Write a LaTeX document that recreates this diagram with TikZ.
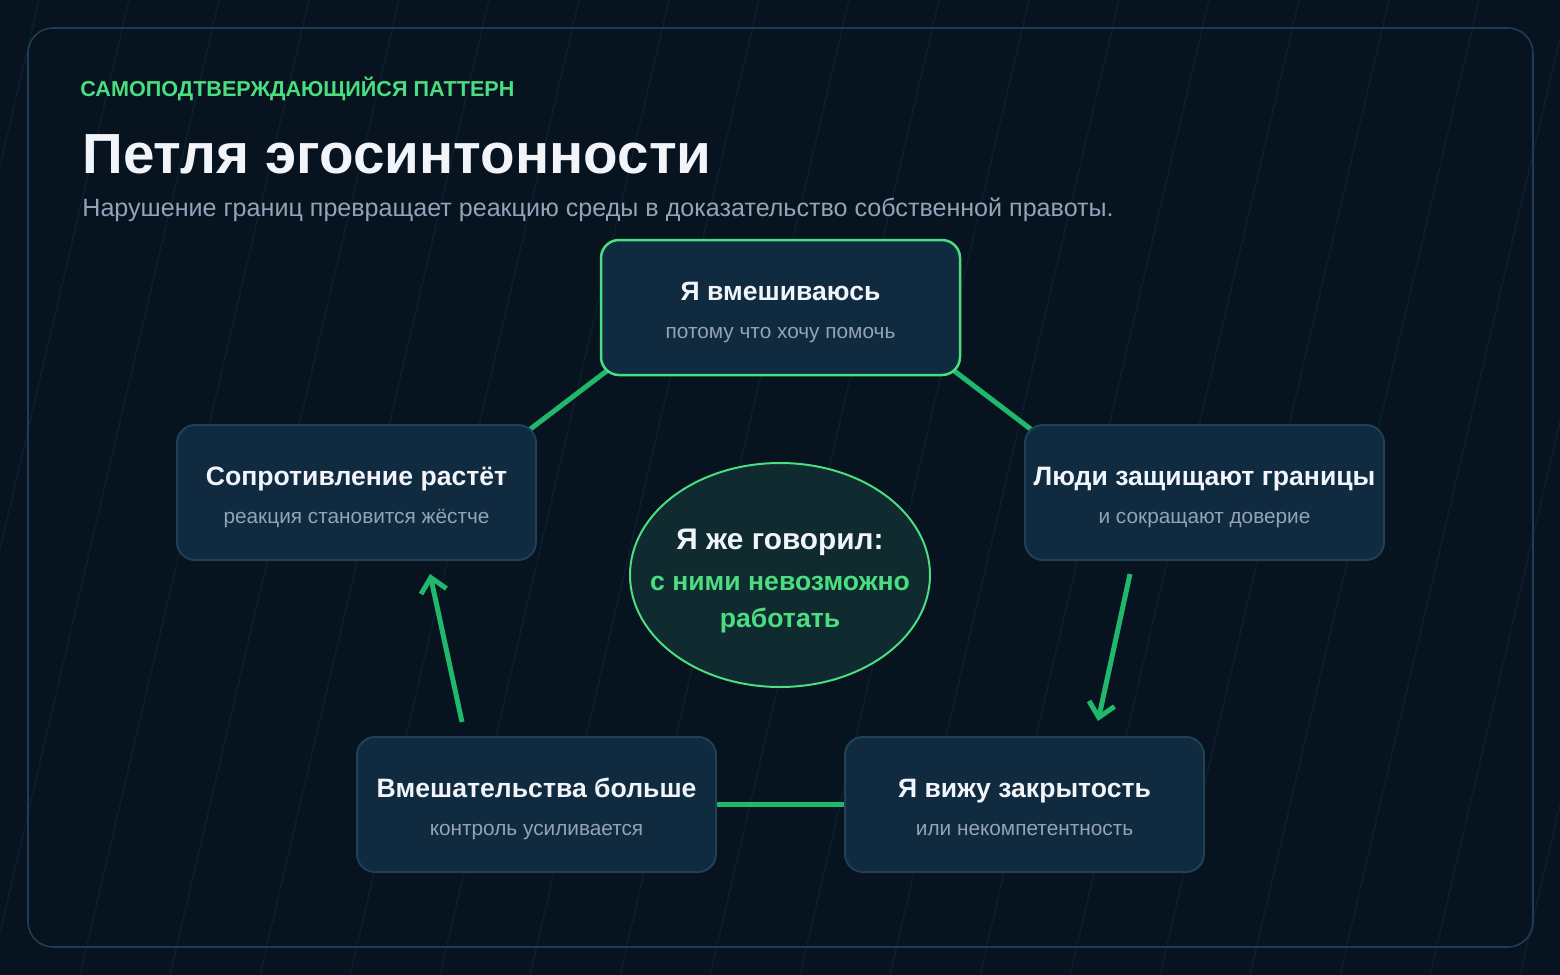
\documentclass[tikz,border=0pt]{standalone}
\usepackage{fontspec}
\setmainfont{Liberation Sans}
\usetikzlibrary{arrows.meta}
\usetikzlibrary{shapes.geometric}

\definecolor{bgnavy}{HTML}{07131F}
\definecolor{hatch}{HTML}{0D2030}
\definecolor{frameedge}{HTML}{1E3D55}
\definecolor{boxfill}{HTML}{102A40}
\definecolor{boxedge}{HTML}{1F4058}
\definecolor{lightgreen}{HTML}{4ADE80}
\definecolor{linkgreen}{HTML}{20B86A}
\definecolor{ovalfill}{HTML}{0F2B2F}
\definecolor{titlewhite}{HTML}{F1F5F9}
\definecolor{subgray}{HTML}{94A3B8}

\pgfdeclarelayer{bg}
\pgfdeclarelayer{links}
\pgfsetlayers{bg,links,main}

\tikzset{
  stepbox/.style={draw=boxedge, line width=1pt, fill=boxfill, rounded corners=9pt,
    minimum width=179.5pt, minimum height=67.5pt, inner sep=0pt},
  hotbox/.style={stepbox, draw=lightgreen, line width=1.25pt},
  boxtitle/.style={anchor=base, inner sep=0pt, text=titlewhite,
    font=\fontsize{13.3}{15}\selectfont\bfseries},
  boxsub/.style={anchor=base, inner sep=0pt, text=subgray,
    font=\fontsize{10.4}{12}\selectfont},
  link/.style={draw=linkgreen, line width=2.5pt},
  flow/.style={link, -{Straight Barb[length=7pt,width=13pt]}}
}

\begin{document}
\begin{tikzpicture}[x=0.5pt,y=-0.5pt]
  \useasboundingbox (0,0) rectangle (1560,975);

  \begin{pgfonlayer}{bg}
    \fill [bgnavy] (0,0) rectangle (1560,975);
    \begin{scope}
      \clip (0,0) rectangle (1560,975);
      \foreach \k in {-1,...,20}
        \draw [hatch, line width=0.6pt] (39+90*\k,0) -- (39+90*\k-229,975);
    \end{scope}
    \draw [frameedge, line width=0.8pt, rounded corners=12.5pt] (28,28) rectangle (1533,947);
  \end{pgfonlayer}

  \node [anchor=base west, inner sep=0pt, text=lightgreen,
    font=\fontsize{10.8}{13}\selectfont\bfseries] (kicker) at (80,96) {САМОПОДТВЕРЖДАЮЩИЙСЯ ПАТТЕРН};
  \node [anchor=base west, inner sep=0pt, text=titlewhite,
    font=\fontsize{28.3}{32}\selectfont\bfseries] (heading) at (82,173) {Петля эгосинтонности};
  \node [anchor=base west, inner sep=0pt, text=subgray,
    font=\fontsize{12.55}{14}\selectfont] (lead) at (82,216) {Нарушение границ превращает реакцию среды в доказательство собственной правоты.};

  \node [hotbox] (interfere) at (780.5,307.5) {};
  \node [boxtitle] (interfereT) at ([yshift=3.5pt]interfere.center) {Я вмешиваюсь};
  \node [boxsub] (interfereS) at ([yshift=-15.25pt]interfere.center) {потому что хочу помочь};

  \node [stepbox] (protect) at (1204.5,492.5) {};
  \node [boxtitle] (protectT) at ([yshift=3.5pt]protect.center) {Люди защищают границы};
  \node [boxsub] (protectS) at ([yshift=-15.25pt]protect.center) {и сокращают доверие};

  \node [stepbox] (closed) at (1024.5,804.5) {};
  \node [boxtitle] (closedT) at ([yshift=3.5pt]closed.center) {Я вижу закрытость};
  \node [boxsub] (closedS) at ([yshift=-15.25pt]closed.center) {или некомпетентность};

  \node [stepbox] (control) at (536.5,804.5) {};
  \node [boxtitle] (controlT) at ([yshift=3.5pt]control.center) {Вмешательства больше};
  \node [boxsub] (controlS) at ([yshift=-15.25pt]control.center) {контроль усиливается};

  \node [stepbox] (resist) at (356.5,492.5) {};
  \node [boxtitle] (resistT) at ([yshift=3.5pt]resist.center) {Сопротивление растёт};
  \node [boxsub] (resistS) at ([yshift=-15.25pt]resist.center) {реакция становится жёстче};

  \node [ellipse, draw=lightgreen, line width=1pt, fill=ovalfill,
    minimum width=150pt, minimum height=112pt, inner sep=0pt] (told) at (780,575) {};
  \node [boxtitle, font=\fontsize{14.9}{17}\selectfont\bfseries] (toldA) at ([yshift=13pt]told.center) {Я же говорил:};
  \node [boxtitle, text=lightgreen] (toldB) at ([yshift=-7.5pt]told.center) {с ними невозможно};
  \node [boxtitle, text=lightgreen] (toldC) at ([yshift=-26pt]told.center) {работать};

  \begin{pgfonlayer}{links}
    \draw [link, shorten <=-6pt, shorten >=-6pt] (resist.north east) -- (interfere.south west);
    \draw [link, shorten <=-6pt, shorten >=-6pt] (interfere.south east) -- (protect.north west);
    \draw [flow] ([xshift=-37.25pt,yshift=-6.5pt]protect.south) -- ([xshift=36.75pt,yshift=7.5pt]closed.north);
    \draw [link] (control.east) -- (closed.west);
    \draw [flow] ([xshift=-37.25pt,yshift=7pt]control.north) -- ([xshift=36.75pt,yshift=-6.5pt]resist.south);
  \end{pgfonlayer}
\end{tikzpicture}
\end{document}
